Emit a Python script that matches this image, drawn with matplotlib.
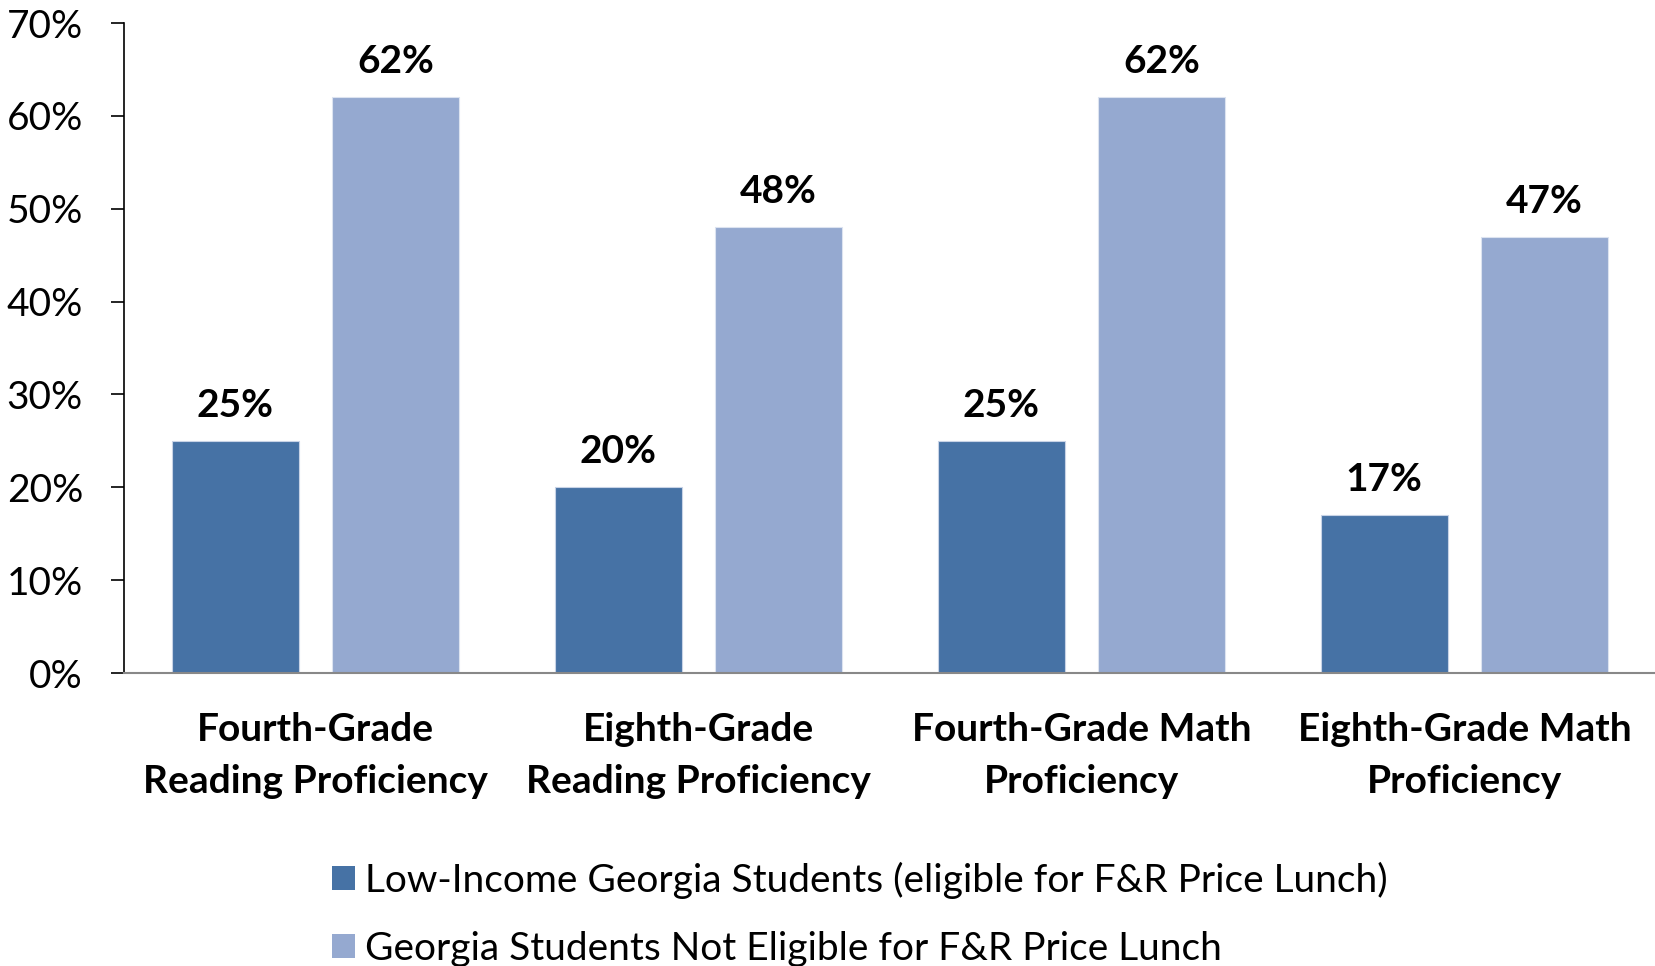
import matplotlib
matplotlib.use("Agg")
import matplotlib.pyplot as plt
from matplotlib.patches import Patch
import numpy as np

categories = ["Fourth-Grade\nReading Proficiency", "Eighth-Grade\nReading Proficiency",
              "Fourth-Grade Math\nProficiency", "Eighth-Grade Math\nProficiency"]
low_income = [25, 20, 25, 17]
not_eligible = [62, 48, 62, 47]
series_names = ["Low-Income Georgia Students (eligible for F&R Price Lunch)",
                "Georgia Students Not Eligible for F&R Price Lunch"]
yticks = [0, 10, 20, 30, 40, 50, 60, 70]

FONT = "Lato"
plt.rcParams["font.family"] = [FONT, "DejaVu Sans"]
DARK = "#4672A5"
LIGHT = "#95A9D0"
FS = 28

fig = plt.figure(figsize=(16.56, 9.66), dpi=100)
ax = fig.add_axes([124/1656, 1 - 673/966, 1 - 124/1656, (673 - 23)/966])

x = np.arange(len(categories))
w = 0.331
off = (w + 0.088) / 2
b1 = ax.bar(x - off, low_income, w, color=DARK, edgecolor="#C8D3E6", linewidth=0.8)
b2 = ax.bar(x + off, not_eligible, w, color=LIGHT, edgecolor="#DCE3F0", linewidth=0.8)

for bars, vals in ((b1, low_income), (b2, not_eligible)):
    for r, v in zip(bars, vals):
        ax.annotate(f"{v}%", (r.get_x() + r.get_width()/2, v), xytext=(0, 13),
                    textcoords="offset points", ha="center", va="bottom",
                    fontsize=FS, fontweight="bold", color="black")

ax.set_xlim(-0.5, 3.5)
ax.set_ylim(0, 70)
ax.set_yticks(yticks)
ax.set_yticklabels([f"{t}%" for t in yticks], fontsize=FS)
ax.tick_params(axis="y", length=9.5, width=1.2, direction="out", pad=20)
ax.set_xticks(x)
ax.set_xticklabels(categories, fontsize=FS, fontweight="bold", linespacing=1.58)
ax.tick_params(axis="x", length=0, pad=28)

for s in ("top", "right"):
    ax.spines[s].set_visible(False)
ax.spines["left"].set_color("black")
ax.spines["left"].set_linewidth(1.2)
ax.spines["bottom"].set_color("#888888")
ax.spines["bottom"].set_linewidth(1.5)

handles = [Patch(facecolor=DARK), Patch(facecolor=LIGHT)]
fig.legend(handles, series_names, loc="lower left", bbox_to_anchor=(297/1656, -0.037),
           frameon=False, fontsize=FS, handlelength=0.6, handleheight=0.6,
           handletextpad=0.25, labelspacing=0.82)

fig.savefig("out.png", dpi=100)
